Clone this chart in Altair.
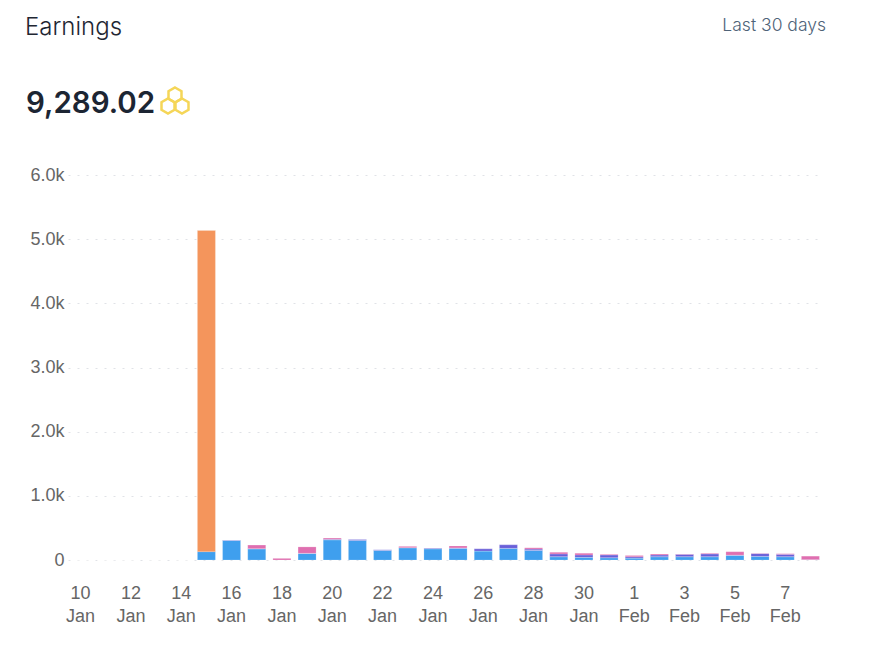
import altair as alt
import pandas as pd

days = [f"{d} Jan" for d in range(10, 32)] + [f"{d} Feb" for d in range(1, 9)]
blue = [0,0,0,0,0,130,306,176,0,104,316,306,150,192,176,182,140,182,150,52,42,36,30,52,52,52,72,57,52,5]
orange = [0,0,0,0,0,5010,0,0,0,0,0,0,0,0,0,0,0,0,0,0,0,0,0,0,0,0,0,0,0,0]
purple = [0,0,0,0,0,0,6,0,0,0,8,15,10,0,10,6,36,57,20,42,36,42,20,26,36,42,5,42,36,0]
pink = [0,0,0,0,0,0,0,57,25,100,18,0,0,20,0,30,0,0,20,26,26,10,20,15,5,10,52,5,10,55]
tick_days = days[::2]
y_ticks = [0, 1000, 2000, 3000, 4000, 5000, 6000]
series_names = ["blue", "orange", "purple", "pink"]
series_colors = ["#3f9fee", "#f4955c", "#6a5fd8", "#df6fb0"]
title_text = "Earnings"
range_text = "Last 30 days"
total_text = "9,289.02"

rows = []
for name, vals in zip(series_names, [blue, orange, purple, pink]):
    for i, (d, v) in enumerate(zip(days, vals)):
        rows.append({"day": d, "series": name, "value": v, "order": series_names.index(name)})
df = pd.DataFrame(rows)

bars = alt.Chart(df).mark_bar(size=18, stroke="#ffffff", strokeOpacity=0.35, strokeWidth=0.5).encode(
    x=alt.X("day:N", sort=days, title=None,
            scale=alt.Scale(paddingInner=0.28, paddingOuter=0.14),
            axis=alt.Axis(values=tick_days, labelExpr="split(datum.value, ' ')", labelAngle=0,
                          labelFont="Liberation Sans", labelFontSize=18, labelColor="#666666",
                          labelLineHeight=23, labelPadding=24, ticks=False, domain=False, grid=False)),
    y=alt.Y("value:Q", stack="zero", title=None,
            scale=alt.Scale(domain=[0, 6000], nice=False),
            axis=alt.Axis(values=y_ticks,
                          labelExpr="datum.value == 0 ? '0' : format(datum.value / 1000, '.1f') + 'k'",
                          labelFont="Liberation Sans", labelFontSize=18, labelColor="#666666", labelPadding=4,
                          ticks=False, domain=False, grid=True, gridColor="#e0e2e7", gridDash=[2, 7], gridWidth=1)),
    color=alt.Color("series:N", scale=alt.Scale(domain=series_names, range=series_colors), legend=None),
    order=alt.Order("order:Q"),
)

def label(text, x, y, **kw):
    return alt.Chart(pd.DataFrame({"t": [text]})).mark_text(baseline="alphabetic", **kw).encode(
        x=alt.value(x), y=alt.value(y), text="t:N")

title = label(title_text, -43, -140, align="left", font="Inter", fontSize=24, fontWeight=300, color="#1f2733")
rng = label(range_text, 758, -144, align="right", font="Inter", fontSize=17.5, fontWeight=300, color="#4f6378")
total = label(total_text, -42, -62, align="left", font="Inter", fontSize=29.5, fontWeight=600, color="#1c2533")

hex_path = "M0,-1L0.866,-0.5L0.866,0.5L0,1L-0.866,0.5L-0.866,-0.5Z"
icons = [
    alt.Chart(pd.DataFrame({"k": [1]})).mark_point(
        shape=hex_path, size=size, stroke="#f5d658", strokeWidth=2.5, fill=None, filled=False, opacity=1
    ).encode(x=alt.value(x), y=alt.value(y))
    for x, y, size in [(107, -80, 225), (100, -69, 225), (114, -69, 225)]
]

chart = alt.layer(bars, title, rng, total, *icons).properties(
    width=755, height=385,
    padding={"left": 60, "top": 167, "right": 47, "bottom": 86},
    autosize=alt.AutoSizeParams(type="none"),
).configure_view(stroke=None)

chart.save("out.html", embed_options={"renderer": "svg", "actions": False})
